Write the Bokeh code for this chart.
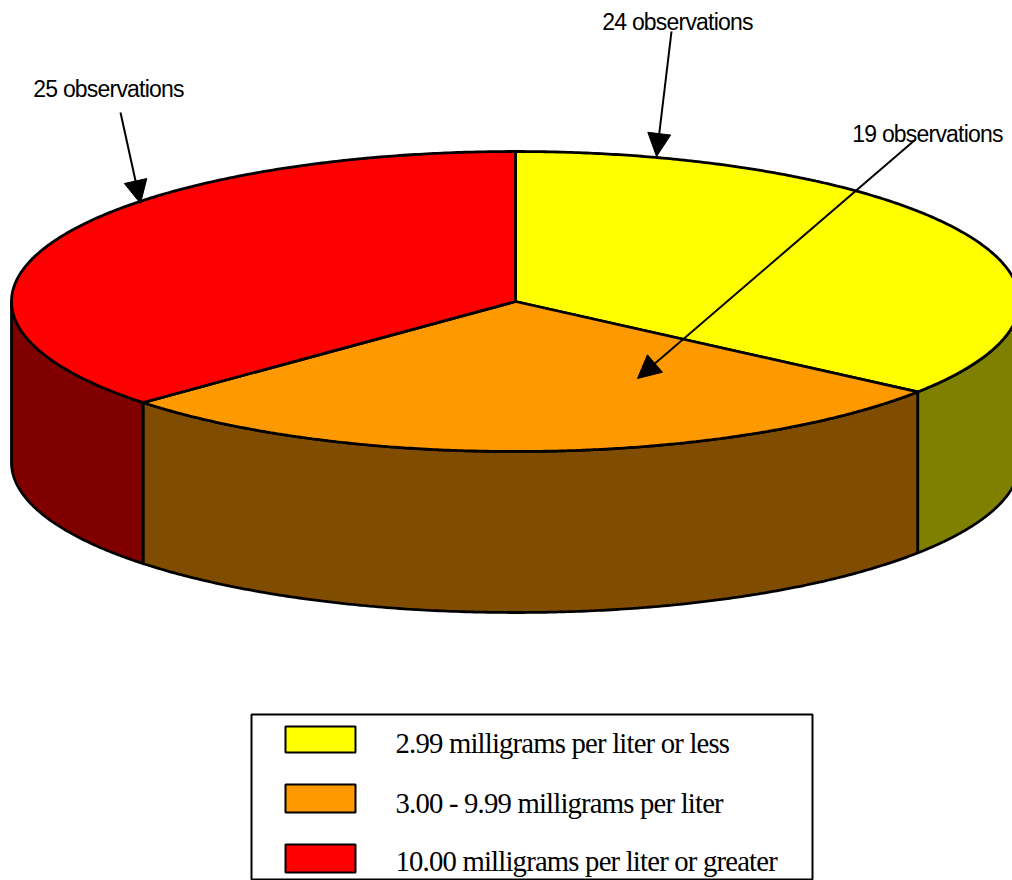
import numpy as np
from bokeh.plotting import figure
from bokeh.models import Range1d, Arrow, NormalHead, Label
from bokeh.embed import file_html
from bokeh.resources import INLINE

categories = ["2.99 milligrams per liter or less", "3.00 - 9.99 milligrams per liter", "10.00 milligrams per liter or greater"]
observations = [24, 19, 25]
top_colors = ["#FFFF00", "#FF9900", "#FF0000"]
side_colors = ["#808000", "#804D00", "#800000"]
labels = ["24 observations", "19 observations", "25 observations"]

CX, CY, RX, RY, DEPTH = 515, 301, 504, 150, 161

p = figure(width=1012, height=880, x_range=Range1d(0, 1012), y_range=Range1d(880, 0),
           output_backend="svg", toolbar_location=None, min_border=0, outline_line_color=None)
p.axis.visible = False
p.grid.visible = False
p.stylesheets = [":host { letter-spacing: -0.8px; }"]

fr = np.cumsum([0] + observations) / sum(observations) * 2 * np.pi
def ell(t, dy=0):
    return CX + RX * np.sin(t), CY - RY * np.cos(t) + dy

# sides
for i in range(3):
    lo = max(fr[i], np.pi / 2)
    hi = min(fr[i + 1], 3 * np.pi / 2)
    if hi <= lo:
        continue
    t = np.linspace(lo, hi, 200)
    x0, y0 = ell(t)
    x1, y1 = ell(t[::-1], DEPTH)
    p.patch(np.r_[x0, x1], np.r_[y0, y1], fill_color=side_colors[i], line_color="black", line_width=2.8)

# tops
for i in range(3):
    t = np.linspace(fr[i], fr[i + 1], 300)
    x0, y0 = ell(t)
    p.patch(np.r_[CX, x0], np.r_[CY, y0], fill_color=top_colors[i], line_color="black", line_width=2.8)

# callouts
tails = [(671, 31), (915, 139), (120, 112)]
heads = [(656, 156), (637, 378), (140, 203)]
lab_pos = [(683, 21), (933, 133), (114, 88)]
for i in range(3):
    p.add_layout(Arrow(end=NormalHead(size=23, fill_color="black", line_color="black", line_width=1),
                       x_start=tails[i][0], y_start=tails[i][1], x_end=heads[i][0], y_end=heads[i][1],
                       line_color="black", line_width=2))
    p.add_layout(Label(x=lab_pos[i][0], y=lab_pos[i][1], text=labels[i], text_font="Liberation Sans",
                       text_font_size="23px", text_align="center", text_baseline="middle", text_color="black"))

# legend box
p.quad(left=[251], right=[812], top=[714], bottom=[879], fill_color="white", line_color="black", line_width=2)
sw_top = [726, 784, 844]
sw_bot = [752, 812, 872]
text_y = [742, 802, 860]
for i in range(3):
    p.quad(left=[285], right=[355], top=[sw_top[i]], bottom=[sw_bot[i]],
           fill_color=top_colors[i], line_color="black", line_width=2)
    p.add_layout(Label(x=395, y=text_y[i], text=categories[i], text_font="Liberation Serif",
                       text_font_size="28.7px", text_align="left", text_baseline="middle", text_color="black"))

open("out.html", "w").write(file_html(p, INLINE))
